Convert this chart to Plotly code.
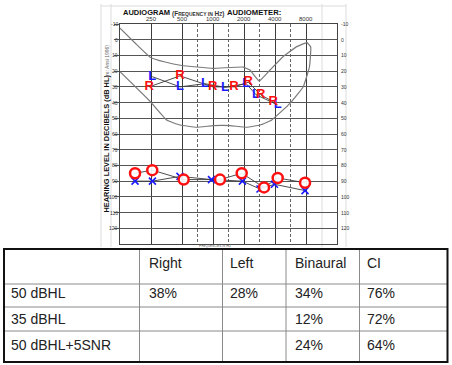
import numpy as np
import plotly.graph_objects as go

W, H = 452, 365

# ---------------- audiogram data ----------------
octave_freqs = [250, 500, 1000, 2000, 4000, 8000]
octave_labels = ["250", "500", "1000", "2000", "4000", "8000"]
interoctave_freqs = [707, 1414, 2828, 5657]
db_ticks = list(range(-10, 121, 10))

# unaided (O = right, X = left)
right_unaided_hz = [175, 257, 519, 1170, 1900, 3130, 4250, 7830]
right_unaided_db = [85, 83, 89, 89, 85, 94, 88, 91]
left_unaided_hz = [175, 258, 478, 967, 1930, 2860, 3950, 7830]
left_unaided_db = [90, 90, 87, 89, 90, 95, 92, 96]

# aided (R / L letters)
right_aided_hz = [240, 478, 993, 1600, 2200, 2900, 3850]
right_aided_db = [30, 23, 30, 30, 27, 35, 39.5]
left_aided_hz = [257, 478, 836, 1308, 2100, 2615, 4250]
left_aided_db = [23.5, 30, 28, 30.3, 28, 35, 41.5]

# speech banana outline
banana_hz = [125, 175, 245, 343, 497, 996, 1968, 2285, 2816, 3577, 4784, 6500,
             8170, 8890, 8650, 7530, 5590, 3720, 2860, 2120, 1465, 1008, 694,
             478, 355, 246, 125]
banana_db = [-7.3, 2.1, 11.1, 14.2, 16.4, 18.2, 17.4, 19.3, 26.3, 19.3, 10.8, 4.4,
             1.9, 4.6, 17.2, 29.9, 40.5, 51.1, 54.3, 55.7, 54.7, 54.7, 55.7,
             54.3, 51.1, 39.4, 20.4]

# ---------------- table data ----------------
table_header = ["", "Right", "Left", "Binaural", "CI"]
row_labels = ["50 dBHL", "35 dBHL", "50 dBHL+5SNR"]
col_right = ["38%", "", ""]
col_left = ["28%", "", ""]
col_binaural = ["34%", "12%", "24%"]
col_ci = ["76%", "72%", "64%"]


def px(x):
    return x / W


def py(y):
    return 1 - y / H


FONT = "Liberation Sans, Arial, sans-serif"
fig = go.Figure()

fig.add_trace(go.Scatter(x=banana_hz, y=banana_db, mode="lines",
                         line=dict(color="#7a7a7a", width=1.2, shape="spline", smoothing=0.3),
                         hoverinfo="skip", showlegend=False))

for hz, db in [(left_unaided_hz, left_unaided_db), (right_unaided_hz, right_unaided_db),
               (left_aided_hz, left_aided_db), (right_aided_hz, right_aided_db)]:
    fig.add_trace(go.Scatter(x=hz, y=db, mode="lines",
                             line=dict(color="#3a3a3a", width=0.9),
                             hoverinfo="skip", showlegend=False))

fig.add_trace(go.Scatter(x=left_unaided_hz, y=left_unaided_db, mode="markers",
                         marker=dict(symbol="x-thin", size=7, line=dict(color="#1a1aff", width=1.6)),
                         showlegend=False))
fig.add_trace(go.Scatter(x=right_unaided_hz, y=right_unaided_db, mode="markers",
                         marker=dict(symbol="circle", size=10, color="rgba(255,255,255,0.9)",
                                     line=dict(color="#ff1010", width=2.5)),
                         showlegend=False))
fig.add_trace(go.Scatter(x=left_aided_hz, y=left_aided_db, mode="text",
                         text=["L"] * len(left_aided_hz), textposition="middle center",
                         textfont=dict(family=FONT, size=13, color="#1a1aff", weight="bold"),
                         showlegend=False))
fig.add_trace(go.Scatter(x=right_aided_hz, y=right_aided_db, mode="text",
                         text=["R"] * len(right_aided_hz), textposition="middle center",
                         textfont=dict(family=FONT, size=13, color="#ff1010", weight="bold"),
                         showlegend=False))

annotations = []
for v in db_ticks:
    annotations.append(dict(x=px(120), xref="paper", y=v, yref="y", text=str(v),
                            xanchor="right", yanchor="middle", showarrow=False,
                            font=dict(family=FONT, size=5, color="#333")))
    annotations.append(dict(x=px(339), xref="paper", y=v, yref="y", text=str(v),
                            xanchor="left", yanchor="middle", showarrow=False,
                            font=dict(family=FONT, size=5, color="#333")))
for f, lab in zip(octave_freqs, octave_labels):
    annotations.append(dict(x=np.log10(f), xref="x", y=py(19.5), yref="paper", text=lab,
                            xanchor="center", yanchor="middle", showarrow=False,
                            font=dict(family=FONT, size=6, color="#333")))

annotations += [
    dict(x=px(121), y=py(13), xref="paper", yref="paper", text="<b>AUDIOGRAM</b>",
         xanchor="left", yanchor="middle", showarrow=False,
         font=dict(family=FONT, size=7.5, color="#111")),
    dict(x=px(169.5), y=py(13.5), xref="paper", yref="paper",
         text="<b>(F<span style='font-size:5px'>REQUENCY IN</span> H<span style='font-size:5px'>Z</span>)</b>",
         xanchor="left", yanchor="middle", showarrow=False,
         font=dict(family=FONT, size=6.5, color="#333")),
    dict(x=px(225), y=py(13), xref="paper", yref="paper", text="<b>AUDIOMETER:</b>",
         xanchor="left", yanchor="middle", showarrow=False,
         font=dict(family=FONT, size=7.7, color="#111")),
    dict(x=px(106.5), y=py(144), xref="paper", yref="paper",
         text="<b>HEARING LEVEL IN DECIBELS (dB HL)</b>", textangle=-90,
         xanchor="center", yanchor="middle", showarrow=False,
         font=dict(family=FONT, size=7.4, color="#111")),
    dict(x=px(106.5), y=py(61), xref="paper", yref="paper",
         text="(re: Ansi 1996)", textangle=-90,
         xanchor="center", yanchor="middle", showarrow=False,
         font=dict(family=FONT, size=5, color="#666")),
    dict(x=px(215), y=py(245.5), xref="paper", yref="paper",
         text="F<span style='font-size:3px'>REQUENCIES IN</span> H<span style='font-size:3px'>Z</span>",
         xanchor="center", yanchor="middle", showarrow=False,
         font=dict(family=FONT, size=4, color="#555")),
]

# ---------------- table ----------------
col_x = [4, 139.5, 222.5, 286, 359.5, 447.5]
row_y = [249, 284, 307, 331, 362]
text_y = [263, 293, 319, 345]
pad = [5, 7, 5, 6.5, 5]

shapes = []
# faint sheet lines around the audiogram form
for x in [101, 111, 322, 346]:
    shapes.append(dict(type="line", xref="paper", yref="paper", x0=px(x), x1=px(x),
                       y0=py(4), y1=py(247), line=dict(color="#dcdcdc", width=1), layer="below"))
shapes.append(dict(type="line", xref="paper", yref="paper", x0=px(101), x1=px(346),
                   y0=py(6), y1=py(6), line=dict(color="#dcdcdc", width=1), layer="below"))

for x in col_x[1:-1]:
    shapes.append(dict(type="line", xref="paper", yref="paper", x0=px(x), x1=px(x),
                       y0=py(row_y[0]), y1=py(row_y[-1]), line=dict(color="#8a8a8a", width=1)))
for y in row_y[1:-1]:
    shapes.append(dict(type="line", xref="paper", yref="paper", x0=px(col_x[0]), x1=px(col_x[-1]),
                       y0=py(y), y1=py(y), line=dict(color="#8a8a8a", width=1)))
shapes.append(dict(type="rect", xref="paper", yref="paper", x0=px(col_x[0]), x1=px(col_x[-1]),
                   y0=py(row_y[0]), y1=py(row_y[-1]), line=dict(color="#111", width=2)))

columns = [row_labels, col_right, col_left, col_binaural, col_ci]
for ci, head in enumerate(table_header):
    cells = [head] + list(columns[ci])
    for ri, txt in enumerate(cells):
        if not txt:
            continue
        annotations.append(dict(x=px(col_x[ci] + pad[ci]), y=py(text_y[ri]), xref="paper", yref="paper",
                                text=txt, xanchor="left", yanchor="middle", showarrow=False,
                                font=dict(family=FONT, size=14, color="#222")))

fig.update_layout(
    width=W, height=H, margin=dict(l=0, r=0, t=0, b=0, autoexpand=False),
    paper_bgcolor="white", plot_bgcolor="white",
    showlegend=False, hovermode=False,
    xaxis=dict(type="log", range=[np.log10(125), np.log10(16000)], domain=[px(120), px(337)],
               tickvals=octave_freqs, showticklabels=False, ticks="", automargin=False,
               showgrid=True, gridcolor="#3c3c3c", gridwidth=1,
               minor=dict(tickvals=interoctave_freqs, showgrid=True, griddash="3px,2px",
                          gridcolor="#666", gridwidth=1, ticks=""),
               showline=True, mirror=True, linecolor="#444", linewidth=1, zeroline=False),
    yaxis=dict(range=[130, -10], domain=[py(244), py(24)], tickvals=db_ticks, automargin=False,
               showticklabels=False, ticks="outside", ticklen=5, tickcolor="#555",
               showgrid=True, gridcolor="#555", gridwidth=1,
               showline=True, mirror=True, linecolor="#444", linewidth=1, zeroline=False),
    annotations=annotations, shapes=shapes,
)

fig.write_html("out.html",
               config={"displayModeBar": False, "staticPlot": True},
               post_script="document.documentElement.style.margin='0';"
                           "document.body.style.margin='0';document.body.style.padding='0';"
                           "document.body.style.overflow='hidden';")
